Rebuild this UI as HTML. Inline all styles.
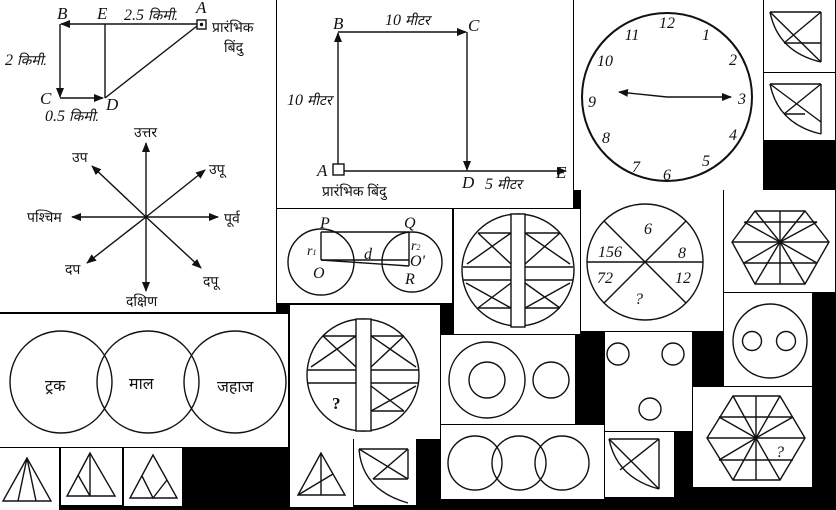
<!DOCTYPE html>
<html><head><meta charset="utf-8"><style>
html,body{margin:0;padding:0;background:#000;}
svg{display:block}
text{font-family:"Liberation Serif","DejaVu Sans",serif;fill:#111}
.i{font-style:italic}
.h{font-family:"Liberation Sans","DejaVu Sans","Noto Sans CJK SC",sans-serif;font-size:14px}
line,path,circle,polyline,polygon,ellipse{stroke:#111;stroke-width:1.4;fill:none}
rect.s{stroke:#111;stroke-width:1.4;fill:#fff}
</style></head><body>
<svg width="836" height="510" viewBox="0 0 836 510">
<defs><marker id="ar" markerWidth="10" markerHeight="8" refX="9" refY="4" orient="auto" markerUnits="userSpaceOnUse"><path d="M0,0 L10,4 L0,8 Z" style="fill:#111;stroke:none"/></marker></defs>
<rect x="0" y="0" width="836" height="510" fill="#000"/>

<g>
<rect x="0" y="0" width="276" height="312" fill="#fff" stroke="none"/>
<line x1="200" y1="24" x2="61" y2="24" marker-end="url(#ar)"/>
<line x1="60" y1="24" x2="60" y2="97" marker-end="url(#ar)"/>
<line x1="60" y1="98" x2="103" y2="98" marker-end="url(#ar)"/>
<line x1="105" y1="24" x2="105" y2="98"/>
<line x1="105" y1="98" x2="197" y2="26"/>
<rect class="s" x="197" y="20" width="9" height="9"/><circle cx="201.5" cy="24.5" r="1" style="fill:#111"/>
<text x="57" y="19" class="i" font-size="17">B</text>
<text x="97" y="19" class="i" font-size="17">E</text>
<text x="124" y="20" class="i" font-size="16">2.5 <tspan class="h">किमी.</tspan></text>
<text x="196" y="13" class="i" font-size="17">A</text>
<text x="212" y="32" class="h">प्रारंभिक</text>
<text x="224" y="52" class="h">बिंदु</text>
<text x="5" y="65" class="i" font-size="16">2 <tspan class="h">किमी.</tspan></text>
<text x="40" y="104" class="i" font-size="17">C</text>
<text x="106" y="110" class="i" font-size="17">D</text>
<text x="45" y="121" class="i" font-size="16">0.5 <tspan class="h">किमी.</tspan></text>
<line x1="146" y1="217" x2="146" y2="143" marker-end="url(#ar)"/>
<line x1="146" y1="217" x2="146" y2="291" marker-end="url(#ar)"/>
<line x1="146" y1="217" x2="72" y2="217" marker-end="url(#ar)"/>
<line x1="146" y1="217" x2="218" y2="217" marker-end="url(#ar)"/>
<line x1="146" y1="217" x2="92" y2="166" marker-end="url(#ar)"/>
<line x1="146" y1="217" x2="205" y2="170" marker-end="url(#ar)"/>
<line x1="146" y1="217" x2="87" y2="263" marker-end="url(#ar)"/>
<line x1="146" y1="217" x2="201" y2="268" marker-end="url(#ar)"/>
<text x="134" y="137" class="h">उत्तर</text>
<text x="126" y="306" class="h">दक्षिण</text>
<text x="27" y="222" class="h">पश्चिम</text>
<text x="224" y="223" class="h">पूर्व</text>
<text x="72" y="162" class="h">उप</text>
<text x="209" y="174" class="h">उपू</text>
<text x="65" y="274" class="h">दप</text>
<text x="203" y="286" class="h">दपू</text>
</g>

<g>
<rect x="277" y="0" width="296" height="208" fill="#fff" stroke="none"/>
<line x1="338" y1="171" x2="338" y2="33" marker-end="url(#ar)"/>
<line x1="338" y1="32" x2="466" y2="32" marker-end="url(#ar)"/>
<line x1="467" y1="32" x2="467" y2="170" marker-end="url(#ar)"/>
<line x1="338" y1="171" x2="566" y2="171" marker-end="url(#ar)"/>
<rect class="s" x="333" y="164" width="11" height="11"/>
<text x="333" y="29" class="i" font-size="17">B</text>
<text x="385" y="25" class="i" font-size="16">10 <tspan class="h">मीटर</tspan></text>
<text x="468" y="31" class="i" font-size="17">C</text>
<text x="287" y="105" class="i" font-size="16">10 <tspan class="h">मीटर</tspan></text>
<text x="317" y="176" class="i" font-size="17">A</text>
<text x="462" y="188" class="i" font-size="17">D</text>
<text x="485" y="189" class="i" font-size="16">5 <tspan class="h">मीटर</tspan></text>
<text x="556" y="178" class="i" font-size="17">E</text>
<text x="322" y="196" class="h">प्रारंभिक बिंदु</text>
</g>

<g>
<rect x="574" y="0" width="189" height="190" fill="#fff" stroke="none"/>
<ellipse cx="667" cy="97" rx="85" ry="84" style="stroke-width:2"/>
<line x1="667" y1="97" x2="619" y2="92" marker-end="url(#ar)"/>
<line x1="667" y1="97" x2="731" y2="97" marker-end="url(#ar)"/>
<g font-size="16" text-anchor="middle">
<text x="667" y="28" class="i">12</text><text x="706" y="40" class="i">1</text><text x="733" y="65" class="i">2</text>
<text x="742" y="104" class="i">3</text><text x="733" y="140" class="i">4</text><text x="706" y="166" class="i">5</text>
<text x="667" y="180" class="i">6</text><text x="636" y="172" class="i">7</text><text x="606" y="143" class="i">8</text>
<text x="592" y="107" class="i">9</text><text x="605" y="66" class="i">10</text><text x="632" y="40" class="i">11</text>
</g>
</g>

<g>
<rect x="764" y="0" width="71" height="72" fill="#fff" stroke="none"/>
<line x1="770" y1="12" x2="821" y2="12"/><line x1="821" y1="12" x2="821" y2="62"/>
<path d="M770,12 Q778,52 821,62"/><line x1="770" y1="12" x2="821" y2="62"/>
<line x1="821" y1="12" x2="784" y2="43"/><line x1="784" y1="43" x2="821" y2="43"/>
</g>
<g>
<rect x="764" y="73" width="71" height="67" fill="#fff" stroke="none"/>
<line x1="770" y1="84" x2="821" y2="84"/><line x1="821" y1="84" x2="821" y2="134"/>
<path d="M770,84 Q778,124 821,134"/><line x1="770" y1="84" x2="821" y2="122"/>
<line x1="821" y1="84" x2="784" y2="114"/><line x1="784" y1="114" x2="805" y2="114"/>
</g>

<g>
<rect x="277" y="209" width="175" height="94" fill="#fff" stroke="none"/>
<circle cx="321" cy="262" r="33"/><circle cx="412" cy="262" r="30"/>
<line x1="321" y1="232" x2="409" y2="232"/><line x1="321" y1="232" x2="321" y2="260"/>
<line x1="321" y1="260" x2="409" y2="266"/><line x1="409" y1="232" x2="409" y2="266"/>
<line x1="321" y1="260" x2="409" y2="260"/>
<text x="320" y="228" class="i" font-size="16">P</text><text x="404" y="228" class="i" font-size="16">Q</text>
<text x="307" y="255" class="i" font-size="14">r<tspan font-size="8">1</tspan></text>
<text x="364" y="259" class="i" font-size="16">d</text>
<text x="313" y="278" class="i" font-size="16">O</text>
<text x="411" y="250" class="i" font-size="14">r<tspan font-size="8">2</tspan></text>
<text x="410" y="266" class="i" font-size="16">O'</text>
<text x="405" y="284" class="i" font-size="16">R</text>
</g>

<g>
<rect x="454" y="209" width="126" height="125" fill="#fff" stroke="none"/>
<circle cx="518" cy="270" r="56"/>
<line x1="463" y1="267" x2="573" y2="267"/><line x1="463" y1="280" x2="573" y2="280"/>
<rect x="511" y="214" width="14" height="113" fill="#fff" stroke="#111" stroke-width="1.4"/>
<line x1="478" y1="233" x2="511" y2="233"/><line x1="478" y1="233" x2="511" y2="264"/><line x1="511" y1="233" x2="467" y2="264"/>
<line x1="525" y1="233" x2="560" y2="233"/><line x1="525" y1="264" x2="560" y2="233"/><line x1="525" y1="233" x2="570" y2="264"/>
<line x1="478" y1="308" x2="511" y2="308"/><line x1="466" y1="283" x2="511" y2="308"/><line x1="511" y1="283" x2="478" y2="308"/>
<line x1="525" y1="308" x2="560" y2="308"/><line x1="525" y1="283" x2="560" y2="308"/><line x1="570" y1="283" x2="525" y2="308"/>
</g>

<g>
<rect x="581" y="190" width="142" height="141" fill="#fff" stroke="none"/>
<circle cx="645" cy="262" r="58"/>
<line x1="587" y1="262" x2="703" y2="262"/>
<line x1="604" y1="221" x2="686" y2="303"/><line x1="686" y1="221" x2="604" y2="303"/>
<g font-size="16" text-anchor="middle">
<text x="648" y="234" class="i">6</text><text x="610" y="257" class="i">156</text><text x="682" y="258" class="i">8</text>
<text x="605" y="283" class="i">72</text><text x="683" y="283" class="i">12</text><text x="639" y="304" class="i">?</text>
</g>
</g>

<g>
<rect x="724" y="190" width="111" height="102" fill="#fff" stroke="none"/>
<polygon points="755,211 805,211 829,242 805,284 755,284 732,242"/>
<line x1="780" y1="211" x2="780" y2="284"/><line x1="732" y1="242" x2="829" y2="242"/>
<line x1="745" y1="222" x2="817" y2="222"/><line x1="744" y1="263" x2="817" y2="263"/>
<line x1="780" y1="242" x2="755" y2="211"/><line x1="780" y1="242" x2="805" y2="211"/>
<line x1="780" y1="242" x2="755" y2="284"/><line x1="780" y1="242" x2="805" y2="284"/>
<line x1="780" y1="242" x2="744" y2="222"/><line x1="780" y1="242" x2="817" y2="222"/>
<line x1="780" y1="242" x2="744" y2="263"/><line x1="780" y1="242" x2="817" y2="263"/>
</g>

<g>
<rect x="0" y="314" width="288" height="133" fill="#fff" stroke="none"/>
<circle cx="61" cy="382" r="51"/><circle cx="148" cy="382" r="51"/><circle cx="235" cy="382" r="51"/>
<text x="45" y="391" class="h" style="font-size:16px">ट्रक</text>
<text x="129" y="389" class="h" style="font-size:16px">माल</text>
<text x="217" y="392" class="h" style="font-size:16px">जहाज</text>
</g>

<g>
<rect x="290" y="305" width="150" height="134" fill="#fff" stroke="none"/>
<circle cx="363" cy="375" r="56"/>
<line x1="308" y1="370" x2="356" y2="370"/><line x1="308" y1="383" x2="356" y2="383"/>
<line x1="371" y1="370" x2="419" y2="370"/><line x1="371" y1="383" x2="419" y2="383"/>
<rect x="356" y="319" width="15" height="112" fill="#fff" stroke="#111" stroke-width="1.4"/>
<line x1="323" y1="336" x2="356" y2="336"/><line x1="323" y1="336" x2="356" y2="367"/><line x1="356" y1="336" x2="311" y2="367"/>
<line x1="371" y1="336" x2="404" y2="336"/><line x1="371" y1="336" x2="416" y2="367"/><line x1="404" y1="336" x2="371" y2="367"/>
<line x1="371" y1="411" x2="404" y2="411"/><line x1="371" y1="386" x2="404" y2="411"/><line x1="416" y1="386" x2="371" y2="411"/>
<text x="332" y="409" font-size="17" font-weight="bold">?</text>
</g>

<g>
<rect x="441" y="335" width="134" height="89" fill="#fff" stroke="none"/>
<circle cx="487" cy="380" r="38"/><circle cx="487" cy="380" r="18"/><circle cx="551" cy="380" r="18"/>
</g>

<g>
<rect x="605" y="332" width="87" height="99" fill="#fff" stroke="none"/>
<circle cx="618" cy="354" r="11"/><circle cx="673" cy="354" r="11"/><circle cx="650" cy="409" r="11"/>
</g>

<g>
<rect x="724" y="293" width="88" height="93" fill="#fff" stroke="none"/>
<circle cx="770" cy="341" r="37"/><circle cx="752" cy="341" r="9.5"/><circle cx="786" cy="341" r="9.5"/>
</g>

<g>
<rect x="693" y="387" width="119" height="100" fill="#fff" stroke="none"/>
<polygon points="733,396 780,396 805,438 780,480 733,480 707,438"/>
<line x1="756" y1="396" x2="756" y2="480"/><line x1="707" y1="438" x2="805" y2="438"/>
<line x1="719" y1="417" x2="793" y2="417"/><line x1="719" y1="460" x2="793" y2="460"/>
<line x1="756" y1="438" x2="733" y2="396"/><line x1="756" y1="438" x2="780" y2="396"/>
<line x1="756" y1="438" x2="733" y2="480"/><line x1="756" y1="438" x2="780" y2="480"/>
<line x1="756" y1="438" x2="719" y2="417"/><line x1="756" y1="438" x2="793" y2="417"/>
<line x1="756" y1="438" x2="719" y2="460"/>
<text x="776" y="457" class="i" font-size="16">?</text>
</g>

<g>
<rect x="0" y="448" width="59" height="62" fill="#fff" stroke="none"/>
<polygon points="27,458 3,501 51,501"/><line x1="27" y1="458" x2="18" y2="501"/><line x1="27" y1="458" x2="36" y2="501"/>
</g>
<g>
<rect x="61" y="448" width="61" height="57" fill="#fff" stroke="none"/>
<polygon points="90,453 67,496 115,496"/><line x1="90" y1="453" x2="90" y2="496"/><line x1="78" y1="475" x2="90" y2="496"/>
</g>
<g>
<rect x="124" y="448" width="58" height="58" fill="#fff" stroke="none"/>
<polygon points="153,455 130,498 177,498"/><polyline points="142,476 153,498 167,480"/>
</g>
<g>
<rect x="290" y="439" width="63" height="68" fill="#fff" stroke="none"/>
<polygon points="321,453 298,495 345,495"/><line x1="321" y1="453" x2="321" y2="495"/><line x1="298" y1="495" x2="333" y2="474"/>
</g>
<g>
<rect x="354" y="439" width="62" height="66" fill="#fff" stroke="none"/>
<line x1="359" y1="449" x2="408" y2="449"/><line x1="408" y1="449" x2="408" y2="479"/>
<path d="M359,449 Q362,490 408,503"/><line x1="359" y1="449" x2="408" y2="479"/>
<line x1="408" y1="449" x2="373" y2="479"/><line x1="373" y1="479" x2="408" y2="479"/>
</g>
<g>
<rect x="441" y="425" width="163" height="74" fill="#fff" stroke="none"/>
<circle cx="475" cy="463" r="27"/><circle cx="519" cy="463" r="27"/><circle cx="562" cy="463" r="27"/>
</g>
<g>
<rect x="605" y="432" width="69" height="65" fill="#fff" stroke="none"/>
<line x1="609" y1="439" x2="659" y2="439"/><line x1="659" y1="439" x2="659" y2="489"/>
<path d="M609,439 Q617,478 659,489"/><line x1="609" y1="439" x2="659" y2="489"/>
<line x1="659" y1="439" x2="620" y2="470"/>
</g>
</svg>
</body></html>
